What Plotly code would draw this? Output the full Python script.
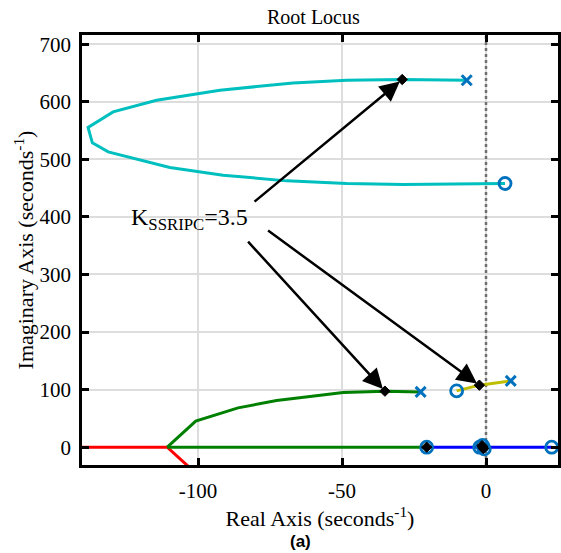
import plotly.graph_objects as go

# ---- data ----
cyan_x = [-6.7, -29.1, -48.4, -67.0, -92.4, -114.4, -129.5, -138.2, -136.7, -131.2, -109.8, -91.3, -69.2, -48.4, -28.7, -2.1, 6.6]
cyan_y = [637.5, 638.7, 637.5, 632.8, 620.0, 602.7, 582.4, 555.3, 528.6, 513.0, 485.8, 472.5, 462.6, 458.0, 456.3, 456.8, 458.0]

green_up_x = [-110.7, -100.8, -86.1, -72.7, -49.6, -35.1, -22.7]
green_up_y = [0, 45.2, 68.3, 81.1, 95.0, 97.3, 96.0]
green_real_x = [-110.7, -20.6]
green_real_y = [0, 0]

red_x = [-145.0, -110.7, -100.8, -86.1]
red_y = [0, 0, -45.2, -68.3]

blue_x = [-20.6, -1.5, 22.8]
blue_y = [0, 0, 0]

yellow_x = [-10.2, -2.3, 8.6]
yellow_y = [97.8, 107.7, 115.2]

pole_x = [-6.7, -22.7, 8.6]
pole_y = [637.5, 96.0, 115.2]

zero_x = [6.6, -10.2, -20.6, -2.2, -1.2, -0.6, 22.8]
zero_y = [458.0, 97.8, 0, 0, 3, -3, 0]

k_x = [-29.1, -35.1, -2.3, -20.6, -1.4, -0.9, -1.1]
k_y = [638.7, 97.3, 107.7, 0, 2.5, -2.5, 0]

k_label = "K<sub>SSRIPC</sub>=3.5"
label_pos = (-103.0, 396)
arrow_tails = [(-80.9, 424.4), (-83.1, 359.6), (-76.2, 378.2)]
arrow_heads = [(-29.1, 638.7), (-35.1, 97.3), (-2.3, 107.7)]

x_ticks = [-100, -50, 0]
y_ticks = [0, 100, 200, 300, 400, 500, 600, 700]
x_range = [-140.3, 25.0]
y_range = [-31, 716]

SERIF = "Liberation Serif, Times New Roman, serif"
MBLUE = "#0072BD"

fig = go.Figure()
lw = 3
# dotted imaginary axis
fig.add_trace(go.Scatter(x=[0, 0], y=y_range, mode="lines",
                         line=dict(color="#707070", width=2.5, dash="dot")))
fig.add_trace(go.Scatter(x=cyan_x, y=cyan_y, mode="lines", line=dict(color="#00BFBF", width=lw)))
fig.add_trace(go.Scatter(x=red_x, y=red_y, mode="lines", line=dict(color="#FF0000", width=lw)))
fig.add_trace(go.Scatter(x=green_real_x, y=green_real_y, mode="lines", line=dict(color="#008000", width=lw)))
fig.add_trace(go.Scatter(x=green_up_x, y=green_up_y, mode="lines", line=dict(color="#008000", width=lw)))
fig.add_trace(go.Scatter(x=blue_x, y=blue_y, mode="lines", line=dict(color="#0000FF", width=lw)))
fig.add_trace(go.Scatter(x=yellow_x, y=yellow_y, mode="lines", line=dict(color="#BFBF00", width=lw)))

fig.add_trace(go.Scatter(x=zero_x, y=zero_y, mode="markers",
                         marker=dict(symbol="circle-open", size=12, color=MBLUE, line=dict(width=2.8))))
fig.add_trace(go.Scatter(x=pole_x, y=pole_y, mode="markers",
                         marker=dict(symbol="x-thin-open", size=10, color=MBLUE, line=dict(width=3, color=MBLUE))))
fig.add_trace(go.Scatter(x=k_x, y=k_y, mode="markers",
                         marker=dict(symbol="diamond", size=8, color="#000000", line=dict(width=1, color="#000000"))))

fig.add_annotation(x=label_pos[0], y=label_pos[1], xref="x", yref="y", text=k_label,
                   showarrow=False, font=dict(family=SERIF, size=24, color="black"))
for (tx, ty), (hx, hy) in zip(arrow_tails, arrow_heads):
    fig.add_annotation(x=hx, y=hy, ax=tx, ay=ty, xref="x", yref="y", axref="x", ayref="y",
                       text="", showarrow=True, arrowhead=2, arrowsize=1.6, arrowwidth=2.5,
                       arrowcolor="black", standoff=3)

fig.add_annotation(x=(313 - 82) / 476, y=1, xref="paper", yref="paper", yanchor="bottom", yshift=5,
                   text="Root Locus", showarrow=False, font=dict(family=SERIF, size=20, color="black"))
fig.add_annotation(x=(300 - 82) / 476, y=-(541 - 465) / 430, xref="paper", yref="paper",
                   yanchor="middle", xanchor="center",
                   text="<b>(a)</b>", showarrow=False,
                   font=dict(family="Liberation Sans, Arial, sans-serif", size=17, color="black"))

fig.update_layout(
    width=561, height=553,
    margin=dict(l=82, r=3, t=35, b=88, autoexpand=False),
    paper_bgcolor="white", plot_bgcolor="white",
    showlegend=False,
    font=dict(family=SERIF, size=21, color="black"),
)

axis_common = dict(showgrid=True, gridcolor="#DDDDDD", gridwidth=2,
                   showline=True, linecolor="black", linewidth=2.5, mirror="ticks",
                   ticks="inside", ticklen=7, tickwidth=2.5, tickcolor="black",
                   zeroline=False, automargin=False,
                   tickfont=dict(family=SERIF, size=21, color="black"))
fig.update_xaxes(range=x_range, tickvals=x_ticks, ticktext=[str(v) for v in x_ticks],
                 ticklabelstandoff=5,
                 title=dict(text="Real Axis (seconds<sup>-1</sup>)", font=dict(family=SERIF, size=22), standoff=2),
                 **axis_common)
fig.update_yaxes(range=y_range, tickvals=y_ticks, ticktext=[str(v) for v in y_ticks],
                 ticklabelstandoff=4,
                 title=dict(text="Imaginary Axis (seconds<sup>-1</sup>)", font=dict(family=SERIF, size=22), standoff=0),
                 **axis_common)

fig.write_html("out.html", config={"displayModeBar": False},
               post_script="document.body.style.margin='0';document.body.style.overflow='hidden';")
